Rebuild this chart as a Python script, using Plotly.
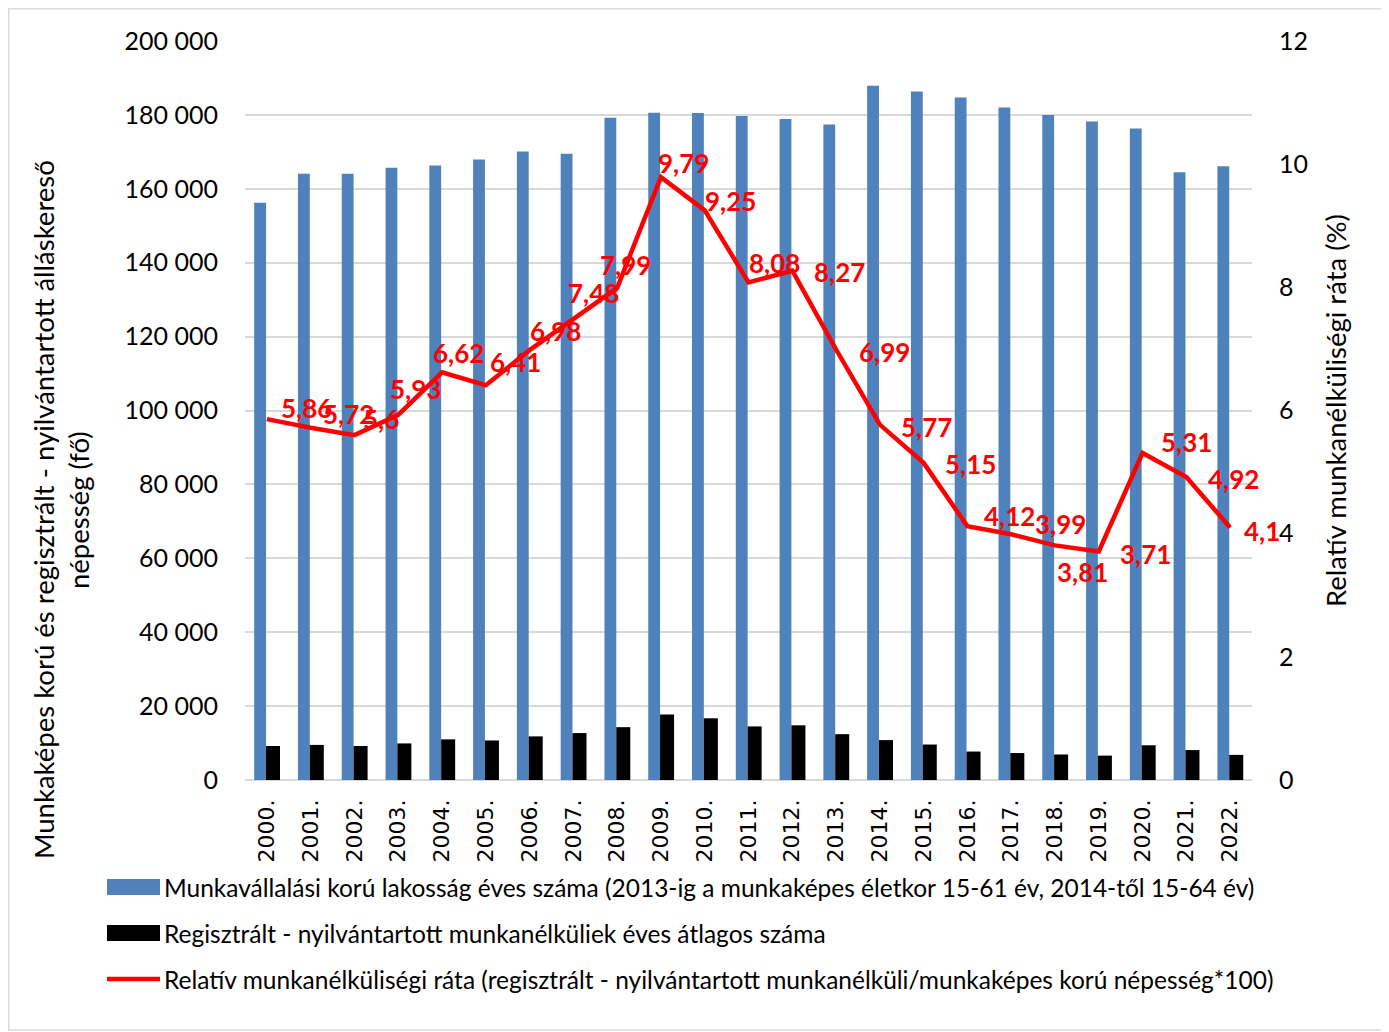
import plotly.graph_objects as go

years = ["2000.", "2001.", "2002.", "2003.", "2004.", "2005.", "2006.", "2007.",
         "2008.", "2009.", "2010.", "2011.", "2012.", "2013.", "2014.", "2015.",
         "2016.", "2017.", "2018.", "2019.", "2020.", "2021.", "2022."]

working_age = [156200, 164100, 164100, 165700, 166300, 167900, 170100, 169500,
               179200, 180600, 180500, 179700, 178900, 177400, 187900, 186300,
               184700, 182000, 180000, 178200, 176300, 164500, 166100]

unemployed = [9200, 9500, 9200, 9900, 11000, 10700, 11800, 12700,
              14300, 17700, 16700, 14500, 14800, 12400, 10800, 9600,
              7700, 7300, 6900, 6600, 9400, 8100, 6800]

rate = [5.86, 5.72, 5.6, 5.93, 6.62, 6.41, 6.98, 7.48,
        7.99, 9.79, 9.25, 8.08, 8.27, 6.99, 5.77, 5.15,
        4.12, 3.99, 3.81, 3.71, 5.31, 4.92, 4.1]

series_names = [
    "Munkavállalási korú lakosság éves száma (2013-ig a munkaképes életkor 15-61 év, 2014-től 15-64 év)",
    "Regisztrált - nyilvántartott munkanélküliek éves átlagos száma",
    "Relatív munkanélküliségi ráta (regisztrált - nyilvántartott munkanélküli/munkaképes korú népesség*100)",
]

left_title = ["Munkaképes korú és regisztrált - nyilvántartott álláskereső", "népesség (fő)"]
right_title = "Relatív munkanélküliségi ráta (%)"

left_ticks = [0, 20000, 40000, 60000, 80000, 100000, 120000, 140000, 160000, 180000, 200000]
right_ticks = [0, 2, 4, 6, 8, 10, 12]

# label offsets (pixels) for the rate data labels, relative to each point
label_dx = [40, 38, 27, 17, 16, 30, 26, 20, 8, 23, 26, 26, 47, 48, 47, 47, 42, 49, 28, 47, 44, 47, 32]
label_dy = [11, 14, 16, 26, 19, 23, 19, 26, 23, 14, 9, 19, -1, -2, -2, -1, 10, 10, -27, -2, 11, -2, -3]

BLUE = "#4F81BD"
RED = "#FF0000"
GRID = "#D9D9D9"
FONT = "Lato"

# page offset of the figure (body margin) and plot area in page pixels
OFF = 8
W, H = 1389 - OFF, 1032 - OFF
L, R, T, B = 245, 1252, 41, 780


def px(x):
    return (x - L) / (R - L)


def py(y):
    return (B - y) / (B - T)


fig = go.Figure()

fig.add_trace(go.Bar(
    x=years, y=working_age, name=series_names[0],
    marker=dict(color=BLUE, line=dict(width=0)),
    width=0.27, offset=-0.29, showlegend=False,
))
fig.add_trace(go.Bar(
    x=years, y=unemployed, name=series_names[1],
    marker=dict(color="#000000", line=dict(width=0)),
    width=0.32, offset=-0.02, showlegend=False,
))
fig.add_trace(go.Scatter(
    x=years, y=rate, name=series_names[2], yaxis="y2", mode="lines",
    line=dict(color=RED, width=4.5), showlegend=False,
))

annotations = []
for i, (v, dx, dy) in enumerate(zip(rate, label_dx, label_dy)):
    annotations.append(dict(
        x=i, y=v, xref="x", yref="y2", text=f"{v:g}".replace(".", ","),
        showarrow=False, xshift=dx, yshift=dy, xanchor="center", yanchor="middle",
        font=dict(family=FONT, size=26, color=RED, weight="bold"),
    ))

TITLE_FONT = dict(family=FONT, size=27.5, color="#000000")
annotations.append(dict(
    x=px(44), y=py(510), xref="paper", yref="paper", text=left_title[0],
    textangle=-90, showarrow=False, xanchor="center", yanchor="middle", font=TITLE_FONT,
))
annotations.append(dict(
    x=px(79), y=py(510), xref="paper", yref="paper", text=left_title[1],
    textangle=-90, showarrow=False, xanchor="center", yanchor="middle", font=TITLE_FONT,
))
annotations.append(dict(
    x=px(1335), y=py(411), xref="paper", yref="paper", text=right_title,
    textangle=-90, showarrow=False, xanchor="center", yanchor="middle", font=TITLE_FONT,
))

# manual legend
shapes = []
legend_y = [887, 933, 979]
shapes.append(dict(type="rect", xref="paper", yref="paper",
                   x0=px(107), x1=px(160), y0=py(895), y1=py(879),
                   fillcolor=BLUE, line=dict(width=0)))
shapes.append(dict(type="rect", xref="paper", yref="paper",
                   x0=px(107), x1=px(160), y0=py(941), y1=py(925),
                   fillcolor="#000000", line=dict(width=0)))
shapes.append(dict(type="line", xref="paper", yref="paper",
                   x0=px(107), x1=px(160), y0=py(979), y1=py(979),
                   line=dict(color=RED, width=4.5)))
for name, ly in zip(series_names, legend_y):
    annotations.append(dict(
        x=px(162), y=py(ly), xref="paper", yref="paper", text=name,
        xanchor="left", yanchor="middle", showarrow=False,
        font=dict(family=FONT, size=24.5, color="#000000"),
    ))

# outer chart border
shapes.append(dict(type="rect", xref="paper", yref="paper",
                   x0=px(8.8), x1=px(1384), y0=py(1030), y1=py(8.8),
                   line=dict(color=GRID, width=1.5), fillcolor="rgba(0,0,0,0)", layer="below"))

fig.update_layout(
    width=W, height=H,
    margin=dict(l=L - OFF, r=W - (R - OFF), t=T - OFF, b=H - (B - OFF), pad=0),
    paper_bgcolor="white", plot_bgcolor="white",
    barmode="overlay",
    separators=", ",
    font=dict(family=FONT, size=25, color="#000000"),
    xaxis=dict(
        type="category", range=[-0.5, len(years) - 0.5],
        tickangle=-90, showgrid=False, showline=False, zeroline=False,
        ticks="", ticklabelstandoff=14,
        tickfont=dict(family="DejaVu Sans", size=22, color="#000000"),
    ),
    yaxis=dict(
        range=[0, 200000], tickvals=left_ticks, tickformat=",d",
        showgrid=True, gridcolor=GRID, gridwidth=2,
        zeroline=True, zerolinecolor=GRID, zerolinewidth=2,
        showline=False, ticks="", ticklabelstandoff=26,
        tickfont=dict(family=FONT, size=25, color="#000000"),
    ),
    yaxis2=dict(
        range=[0, 12], tickvals=right_ticks, overlaying="y", side="right",
        showgrid=False, zeroline=False, showline=False, ticks="", ticklabelstandoff=26,
        tickfont=dict(family=FONT, size=25, color="#000000"),
    ),
    shapes=shapes,
    annotations=annotations,
)

fig.write_html("out.html")
